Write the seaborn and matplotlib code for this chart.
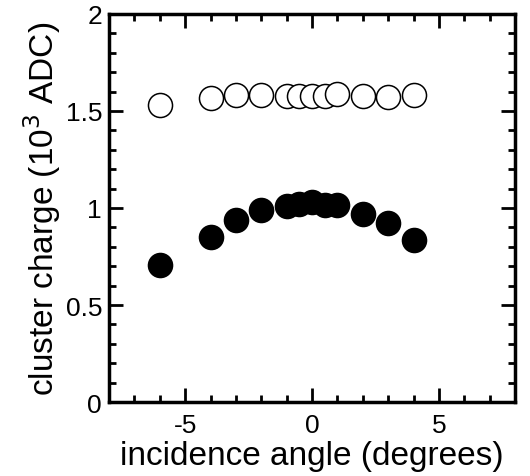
import matplotlib
matplotlib.use("Agg")
import matplotlib.pyplot as plt
import seaborn as sns
import pandas as pd
from matplotlib.ticker import MultipleLocator

# incidence angles (degrees) and mean cluster charge (10^3 ADC)
angle = [-6, -4, -3, -2, -1, -0.5, 0, 0.5, 1, 2, 3, 4]
charge_open = [1.531, 1.567, 1.584, 1.584, 1.579, 1.579, 1.579, 1.579, 1.586, 1.579, 1.574, 1.583]
charge_filled = [0.706, 0.852, 0.938, 0.991, 1.009, 1.021, 1.029, 1.017, 1.015, 0.969, 0.921, 0.835]

sns.set_style("ticks")
plt.rcParams["font.family"] = ["Liberation Sans", "DejaVu Sans"]
plt.rcParams["axes.unicode_minus"] = False
plt.rcParams["text.color"] = "black"
plt.rcParams["axes.labelcolor"] = "black"
plt.rcParams["xtick.color"] = "black"
plt.rcParams["ytick.color"] = "black"

df = pd.DataFrame({"angle": angle, "open": charge_open, "filled": charge_filled})

fig = plt.figure(figsize=(5.30, 4.77), dpi=100)
ax = fig.add_axes([0.2057, 0.1551, 0.766, 0.8135])

sns.scatterplot(data=df, x="angle", y="open", ax=ax, s=300, marker="o",
                facecolor="white", edgecolor="black", linewidth=1.1, zorder=3)
sns.scatterplot(data=df, x="angle", y="filled", ax=ax, s=300, marker="o",
                color="black", edgecolor="black", linewidth=1.1, zorder=3)

ax.set_xlim(-8, 8)
ax.set_ylim(0, 2)
ax.xaxis.set_major_locator(MultipleLocator(5))
ax.xaxis.set_minor_locator(MultipleLocator(1))
ax.yaxis.set_minor_locator(MultipleLocator(0.1))
ax.set_yticks([0, 0.5, 1, 1.5, 2])
ax.set_yticklabels(["0", "0.5", "1", "1.5", "2"])

ax.tick_params(which="both", direction="in", top=True, right=True,
               labelsize=19, width=2, color="black")
ax.tick_params(axis="x", pad=8)
ax.tick_params(axis="y", pad=5)
ax.tick_params(which="major", length=10)
ax.tick_params(which="minor", length=5)
for sp in ax.spines.values():
    sp.set_linewidth(2.5)
    sp.set_color("black")

ax.set_xlabel("incidence angle (degrees)", fontsize=24, labelpad=2)
ax.set_ylabel("cluster charge (10$^3$ ADC)", fontsize=24, labelpad=2)

fig.savefig("out.png", dpi=100, facecolor="white")
